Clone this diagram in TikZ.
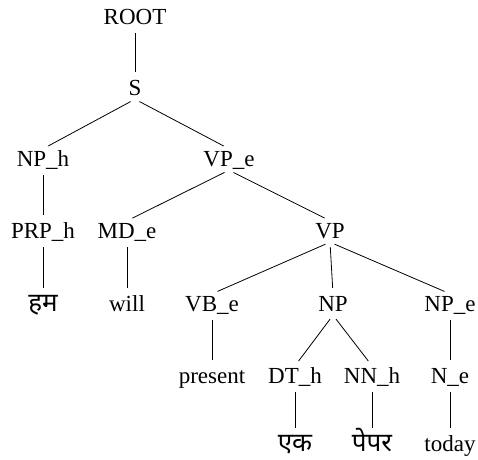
\documentclass[tikz,border=0pt]{standalone}
\usepackage{fontspec}
\setmainfont{Liberation Serif}
\newfontfamily\devfont[Script=Devanagari]{Noto Sans}
\begin{document}
\begin{tikzpicture}[x=1pt,y=-1pt,
  lbl/.style={anchor=base,inner xsep=0pt,inner ysep=0pt,text height=17pt,text depth=4pt,font=\fontsize{23}{27}\selectfont},
  dev/.style={lbl,font=\fontsize{26}{30}\selectfont\devfont},
  br/.style={line width=0.8pt,shorten <=5pt,shorten >=6pt}]
\useasboundingbox (0,0) rectangle (478,459);
% level 0
\node[lbl] (root) at (135,24) {ROOT};
% level 1
\node[lbl] (s) at (135,95) {S};
% level 2
\node[lbl] (nph) at (43,166) {NP\_h};
\node[lbl] (vpe) at (229,166) {VP\_e};
% level 3
\node[lbl] (prph) at (43,238) {PRP\_h};
\node[lbl] (mde) at (127,238) {MD\_e};
\node[lbl] (vp) at (330,238) {VP};
% level 4
\node[dev] (ham) at (43,311) {हम};
\node[lbl] (will) at (127,311) {will};
\node[lbl] (vbe) at (212,311) {VB\_e};
\node[lbl] (np) at (333,311) {NP};
\node[lbl] (npe) at (450,311) {NP\_e};
% level 5
\node[lbl] (present) at (212,383) {present};
\node[lbl] (dth) at (295,383) {DT\_h};
\node[lbl] (nnh) at (372,383) {NN\_h};
\node[lbl] (ne) at (450,383) {N\_e};
% level 6
\node[dev] (ek) at (295,451) {एक};
\node[dev] (paper) at (372,451) {पेपर};
\node[lbl] (today) at (450,451) {today};
% branches
\draw[br] (root.south) -- (s.north);
\draw[br] (s.south) -- (nph.north);
\draw[br] (s.south) -- (vpe.north);
\draw[br] (nph.south) -- (prph.north);
\draw[br] (vpe.south) -- (mde.north);
\draw[br] (vpe.south) -- (vp.north);
\draw[br] (prph.south) -- (ham.north);
\draw[br] (mde.south) -- (will.north);
\draw[br] (vp.south) -- (vbe.north);
\draw[br] (vp.south) -- (np.north);
\draw[br] (vp.south) -- (npe.north);
\draw[br] (vbe.south) -- (present.north);
\draw[br] (np.south) -- (dth.north);
\draw[br] (np.south) -- (nnh.north);
\draw[br] (npe.south) -- (ne.north);
\draw[br] (dth.south) -- (ek.north);
\draw[br] (nnh.south) -- (paper.north);
\draw[br] (ne.south) -- (today.north);
\end{tikzpicture}
\end{document}
